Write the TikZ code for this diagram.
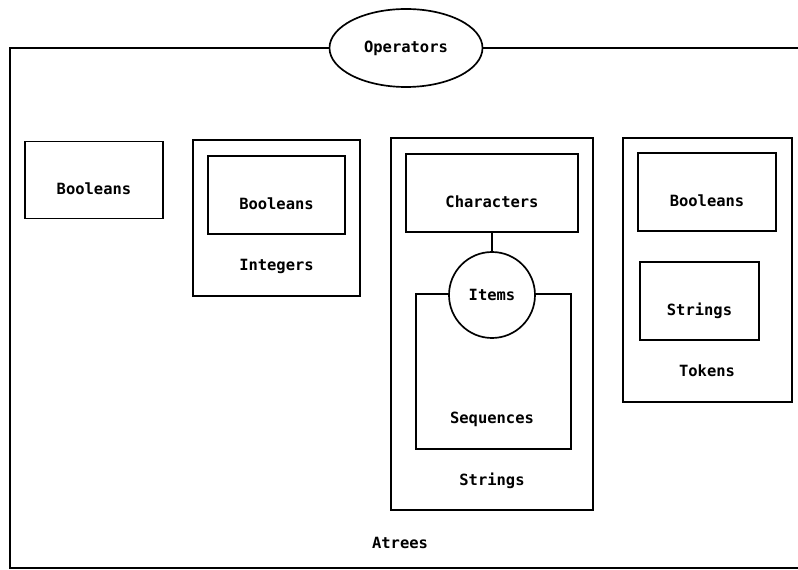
\documentclass[tikz,border=0pt]{standalone}
\usepackage{fontspec}
\setmonofont{DejaVu Sans Mono}
\usetikzlibrary{shapes.geometric}
\newcommand\pxu{0.025cm}
\tikzset{
  sortbox/.style={draw,line width=1.2pt,rectangle,inner sep=0pt},
  sortname/.style={font=\ttfamily\bfseries\fontsize{11}{13}\selectfont,inner sep=1pt},
  lowname/.style={sortname,text height=20pt,text depth=0pt},
}
\begin{document}
\begin{tikzpicture}[x=0.025cm,y=-0.025cm,line width=1.2pt]
        \useasboundingbox (0,0) rectangle (798,570);
        %Khung Atrees
            \draw (800,48) -| (10,568) -- (800,568);
            \node[sortname] (atrees) at (400,543) {Atrees};
            \node[draw,ellipse,fill=white,minimum width=153*\pxu,minimum height=78*\pxu,sortname,line width=1.2pt] (operators) at (406,48) {Operators};
        %Booleans
        \node[sortbox,minimum width=138*\pxu,minimum height=77*\pxu,lowname] (bool1) at (94,180) {Booleans};
        %Integers
        \node[sortbox,minimum width=167*\pxu,minimum height=156*\pxu] (integers) at (276.5,218) {};
        \node[sortbox,minimum width=137*\pxu,minimum height=78*\pxu,lowname] (bool2) at (276.5,195) {Booleans};
        \node[sortname] (intlabel) at (276.5,266) {Integers};
        %Strings
        \node[sortbox,minimum width=202*\pxu,minimum height=372*\pxu] (strings) at (492,324) {};
        \node[sortbox,minimum width=172*\pxu,minimum height=78*\pxu,lowname] (chars) at (492,193) {Characters};
        \node[sortbox,minimum width=155*\pxu,minimum height=155*\pxu] (seqs) at (493.5,371.5) {};
        \node[sortname] (seqlabel) at (492,419) {Sequences};
        \node[draw,circle,fill=white,minimum size=86*\pxu,sortname,line width=1.2pt] (items) at (492,295) {Items};
        \draw (chars) -- (items);
        \node[sortname] (strlabel) at (492,481) {Strings};
        %Tokens
        \node[sortbox,minimum width=169*\pxu,minimum height=264*\pxu] (tokens) at (707.5,270) {};
        \node[sortbox,minimum width=138*\pxu,minimum height=78*\pxu,lowname] (bool3) at (707,192) {Booleans};
        \node[sortbox,minimum width=119*\pxu,minimum height=78*\pxu,lowname] (str2) at (699.5,301) {Strings};
        \node[sortname] (toklabel) at (707,371) {Tokens};
\end{tikzpicture}
\end{document}
